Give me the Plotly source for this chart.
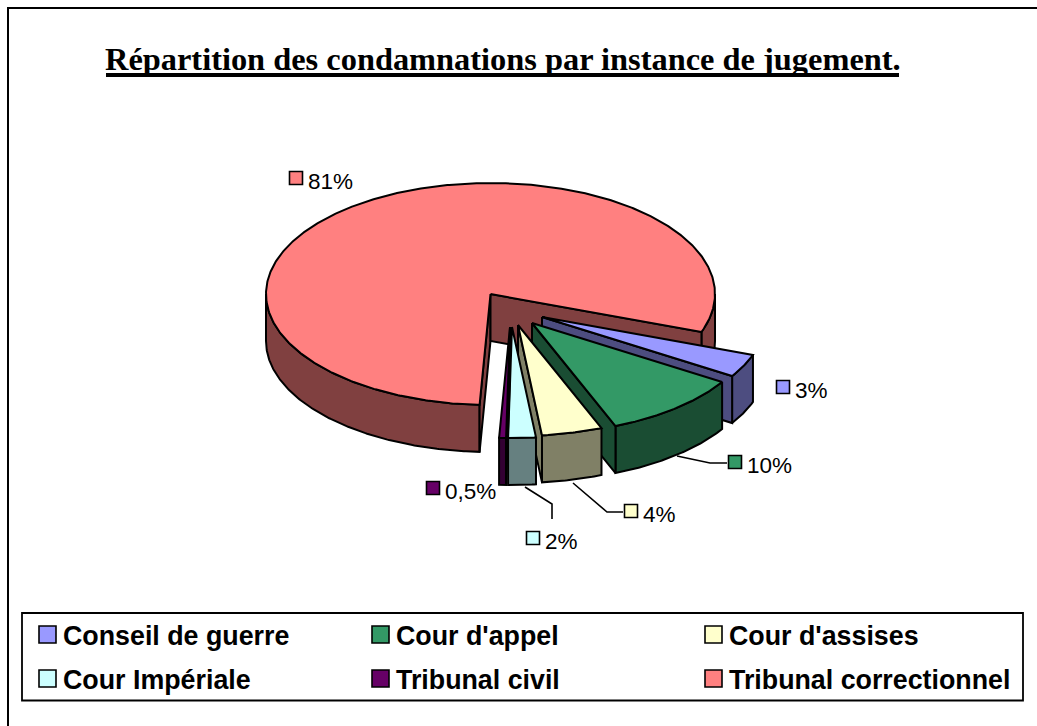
import numpy as np
import plotly.graph_objects as go

categories = ["Conseil de guerre", "Cour d'appel", "Cour d'assises",
              "Cour Impériale", "Tribunal civil", "Tribunal correctionnel"]
values = [3.4, 10.1, 4.4, 2.0, 0.5, 80.5]
value_labels = ["3%", "10%", "4%", "2%", "0,5%", "81%"]
title_text = "Répartition des condamnations par instance de jugement."

top_colors = ["#9999FF", "#339966", "#FFFFCC", "#CCFFFF", "#660066", "#FF8080"]
wall_colors = ["#4D4D80", "#1A4D33", "#808066", "#668080", "#330033", "#804040"]

# Projection of the pie (pixel-based axis space)
CX, CY, RX, RY, DEPTH = 490.5, 294.0, 224.5, 111.0, 47.0
START = 110.0
APEX_OFFSET = [(51.5, 23), (41.5, 29), (27.5, 31), (21.5, 33), (19.5, 33), (0, 0)]
KEY_POS = [(783, 387), (735, 462), (631, 511), (533, 538), (433, 488), (296, 178)]
LEADERS = {1: [(677, 456), (710, 463), (727, 463)],
           2: [(573, 483), (607, 512), (623, 512)],
           3: [(525, 487), (552, 504), (552, 519)]}
LEGEND_POS = [(47.5, 634.5), (380.5, 634.5), (713.5, 634.5),
              (47.5, 678.5), (380.5, 678.5), (713.5, 678.5)]

fig = go.Figure()


def rim(t0, t1, ox, oy):
    t = np.radians(np.linspace(t0, t1, max(2, int(abs(t1 - t0) * 2) + 1)))
    return CX + ox + RX * np.sin(t), CY + oy - RY * np.cos(t)


def poly(xs, ys, color, name):
    fig.add_trace(go.Scatter(
        x=np.append(xs, xs[0]), y=np.append(ys, ys[0]), mode="lines", fill="toself",
        fillcolor=color, line=dict(color="black", width=2, shape="linear"),
        name=name, hoverinfo="name", showlegend=False))


def radial_face(t, ox, oy, color, name):
    px, py = rim(t, t, ox, oy)
    ax, ay = CX + ox, CY + oy
    poly(np.array([ax, px[0], px[0], ax]),
         np.array([ay, py[0], py[0] + DEPTH, ay + DEPTH]), color, name)


angles = START + np.cumsum([0] + values) * 360.0 / sum(values)
order = [5, 0, 1, 2, 3, 4]
for i in order:
    s, e = angles[i], angles[i + 1]
    ox, oy = APEX_OFFSET[i]
    name = categories[i]
    # visible outer wall: the front half of the rim
    for k in (0, 1):
        a, b = max(s, 90 + 360 * k), min(e, 270 + 360 * k)
        if b > a:
            wx, wy = rim(a, b, ox, oy)
            poly(np.concatenate([wx, wx[::-1]]),
                 np.concatenate([wy, wy[::-1] + DEPTH]), wall_colors[i], name)
    # visible cut faces
    if np.sin(np.radians(s)) < 0:
        radial_face(s, ox, oy, wall_colors[i], name)
    if np.sin(np.radians(e)) > 0:
        radial_face(e, ox, oy, wall_colors[i], name)
    # top surface
    tx, ty = rim(s, e, ox, oy)
    poly(np.concatenate([[CX + ox], tx]), np.concatenate([[CY + oy], ty]), top_colors[i], name)

# leader lines
for pts in LEADERS.values():
    fig.add_trace(go.Scatter(x=[p[0] for p in pts], y=[p[1] for p in pts], mode="lines",
                             line=dict(color="black", width=1.6), hoverinfo="skip", showlegend=False))

# value label keys
fig.add_trace(go.Scatter(
    x=[p[0] for p in KEY_POS], y=[p[1] for p in KEY_POS], mode="markers",
    marker=dict(symbol="square", size=13, color=top_colors, line=dict(color="black", width=1.6)),
    hoverinfo="skip", showlegend=False))
# legend keys
fig.add_trace(go.Scatter(
    x=[p[0] for p in LEGEND_POS], y=[p[1] for p in LEGEND_POS], mode="markers",
    marker=dict(symbol="square", size=17, color=top_colors, line=dict(color="black", width=1.6)),
    hoverinfo="skip", showlegend=False))

annotations = []
for (kx, ky), lab in zip(KEY_POS, value_labels):
    annotations.append(dict(x=kx + 9.5, y=ky + 3, text=lab, xanchor="left", yanchor="middle",
                            showarrow=False, font=dict(family="Liberation Sans", size=22.5, color="black")))
for (lx, ly), cat in zip(LEGEND_POS, categories):
    annotations.append(dict(x=lx + 13.5, y=ly + 1.5, text=cat, xanchor="left", yanchor="middle",
                            showarrow=False, font=dict(family="Liberation Sans", size=26.8, color="black",
                                                       weight="bold")))
annotations.append(dict(x=502.5, y=59, text=title_text, xanchor="center", yanchor="middle", showarrow=False,
                        font=dict(family="Liberation Serif", size=32.4, color="black", weight="bold")))

shapes = [
    dict(type="rect", x0=8, y0=8, x1=1200, y1=900, line=dict(color="black", width=2), layer="below"),
    dict(type="rect", x0=22, y0=613, x1=1023, y1=700.5, line=dict(color="black", width=1.8), layer="below"),
    dict(type="line", x0=106, x1=899, y0=75, y1=75, line=dict(color="black", width=4)),
]

fig.update_layout(
    width=1037, height=726, margin=dict(l=0, r=0, t=0, b=0),
    paper_bgcolor="white", plot_bgcolor="white",
    xaxis=dict(range=[0, 1037], visible=False, fixedrange=True),
    yaxis=dict(range=[726, 0], visible=False, fixedrange=True),
    annotations=annotations, shapes=shapes, showlegend=False,
)

fig.write_html("out.html", config={"displayModeBar": False},
               post_script="document.body.style.margin='0';document.body.style.overflow='hidden';")
